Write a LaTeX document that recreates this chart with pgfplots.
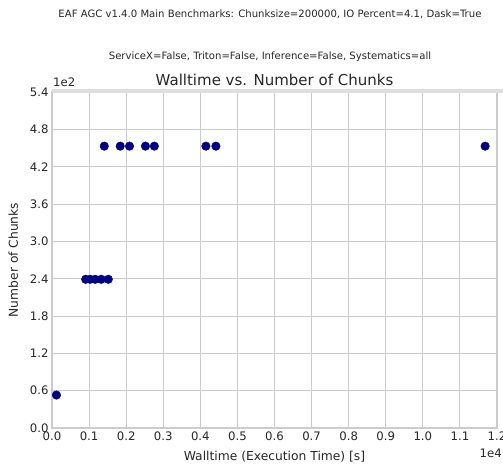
\documentclass[border=0pt]{standalone}
\usepackage{pgfplots}
\pgfplotsset{compat=1.18}
\usepackage{fontspec}
\setmainfont{DejaVu Sans}
\definecolor{txt}{gray}{0.15}
\definecolor{gridc}{gray}{0.8}
\definecolor{topc}{gray}{0.87}
\definecolor{mk}{RGB}{0,0,139}
\begin{document}
\begin{tikzpicture}[x=1pt,y=1pt]
\path[use as bounding box] (-52,-36) rectangle (451,428);
\begin{axis}[
  at={(0,0)}, anchor=south west,
  scale only axis, width=445pt, height=336pt,
  xmin=0, xmax=12000, ymin=0, ymax=540,
  xtick={0,1000,...,12000},
  xticklabels={0.0,0.1,0.2,0.3,0.4,0.5,0.6,0.7,0.8,0.9,1.0,1.1,1.2},
  ytick={0,60,...,540},
  yticklabels={0.0,0.6,1.2,1.8,2.4,3.0,3.6,4.2,4.8,5.4},
  scaled ticks=false,
  grid=major,
  major grid style={gridc, line width=0.9pt},
  axis line style={gridc, line width=1.2pt},
  tick style={draw=none},
  ticklabel style={font=\fontsize{11.7}{13}\selectfont, text=txt},
  xlabel={Walltime (Execution Time) [s]},
  ylabel={Number of Chunks},
  label style={font=\fontsize{12.3}{14}\selectfont, text=txt},
  xlabel style={yshift=-4pt},
  ylabel style={yshift=5pt},
  title={Walltime vs. Number of Chunks},
  title style={font=\fontsize{15}{17}\selectfont, text=txt, yshift=-3pt},
  extra description/.code={\draw[topc, line width=3.5pt] ([yshift=1.2pt]rel axis cs:0,1) -- ([yshift=1.2pt,xshift=10pt]rel axis cs:1,1);},
  clip=false,
]
\addplot[only marks, mark=*, mark size=4.3pt, mark options={draw=mk, fill=mk}] coordinates {
  (120,53)
  (908,239) (1030,239) (1165,239) (1328,239) (1518,239)
  (1410,453) (1840,453) (2090,453) (2520,453) (2760,453)
  (4150,453) (4420,453) (11680,453)
};
\end{axis}
\node[anchor=south west, text=txt, font=\fontsize{11.7}{13}\selectfont, inner sep=0pt] at (1,341) {1e2};
\node[anchor=north east, text=txt, font=\fontsize{11.7}{13}\selectfont, inner sep=0pt] at (450,-21) {1e4};
\node[text=txt, font=\fontsize{10.1}{12}\selectfont, inner sep=0pt] at (218,414) {EAF AGC v1.4.0 Main Benchmarks: Chunksize=200000, IO Percent=4.1, Dask=True};
\node[text=txt, font=\fontsize{10.1}{12}\selectfont, inner sep=0pt] at (218,371) {ServiceX=False, Triton=False, Inference=False, Systematics=all};
\end{tikzpicture}
\end{document}
